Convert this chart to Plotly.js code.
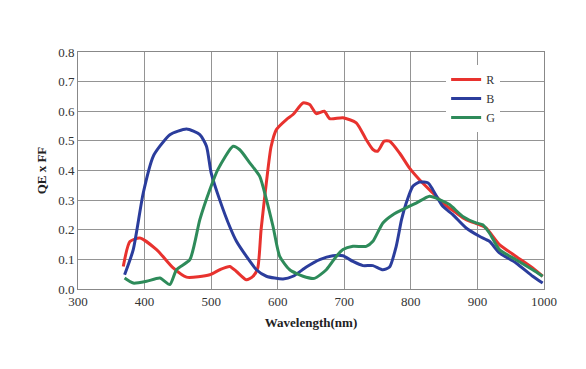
<!DOCTYPE html>
<html>
<head>
<meta charset="utf-8">
<script src="https://cdn.plot.ly/plotly-3.0.1.min.js"></script>
<style>html,body{margin:0;padding:0;background:#fff;}#chart{width:586px;height:369px;}</style>
</head>
<body>
<div id="chart"></div>
<script>
const redWl  = [368, 378, 393, 418, 443, 463, 498, 513, 528, 538, 553, 563, 570, 575, 583, 590, 598, 613, 623, 638, 648, 658, 670, 678, 698, 718, 733, 743, 750, 760, 768, 783, 798, 813, 833, 848, 868, 883, 903, 913, 933, 958, 983, 998];
const redVal = [0.076, 0.16, 0.172, 0.133, 0.071, 0.040, 0.048, 0.065, 0.076, 0.059, 0.031, 0.043, 0.071, 0.20, 0.36, 0.48, 0.538, 0.572, 0.589, 0.628, 0.623, 0.592, 0.60, 0.575, 0.578, 0.561, 0.504, 0.471, 0.465, 0.499, 0.499, 0.459, 0.408, 0.369, 0.324, 0.29, 0.257, 0.234, 0.217, 0.206, 0.15, 0.11, 0.071, 0.043];

const blueWl  = [370, 383, 398, 413, 423, 438, 463, 483, 493, 500, 513, 528, 538, 553, 568, 583, 608, 623, 643, 663, 683, 698, 713, 728, 743, 758, 768, 778, 786, 793, 803, 813, 826, 833, 848, 863, 883, 903, 918, 933, 958, 983, 998];
const blueVal = [0.048, 0.133, 0.324, 0.448, 0.482, 0.521, 0.54, 0.521, 0.482, 0.392, 0.30, 0.21, 0.161, 0.11, 0.065, 0.043, 0.034, 0.043, 0.074, 0.099, 0.112, 0.112, 0.093, 0.079, 0.079, 0.065, 0.074, 0.144, 0.234, 0.29, 0.347, 0.361, 0.358, 0.335, 0.279, 0.251, 0.206, 0.178, 0.161, 0.122, 0.088, 0.043, 0.02];

const greenWl  = [370, 383, 403, 423, 438, 448, 468, 483, 498, 510, 533, 543, 558, 573, 583, 593, 603, 618, 638, 655, 673, 688, 698, 713, 733, 743, 758, 773, 793, 808, 828, 843, 858, 878, 898, 908, 918, 933, 958, 983, 998];
const greenVal = [0.037, 0.02, 0.026, 0.037, 0.015, 0.065, 0.099, 0.234, 0.335, 0.403, 0.482, 0.47, 0.426, 0.38, 0.302, 0.211, 0.11, 0.065, 0.043, 0.036, 0.065, 0.11, 0.133, 0.144, 0.144, 0.161, 0.223, 0.251, 0.274, 0.29, 0.313, 0.302, 0.285, 0.245, 0.223, 0.217, 0.189, 0.133, 0.099, 0.065, 0.043];

const xTicks = [300, 400, 500, 600, 700, 800, 900, 1000];
const yTicks = [0.0, 0.1, 0.2, 0.3, 0.4, 0.5, 0.6, 0.7, 0.8];
const yTickText = ['0.0', '0.1', '0.2', '0.3', '0.4', '0.5', '0.6', '0.7', '0.8'];

const serif = 'Liberation Serif, Times New Roman, serif';

const traces = [
  {x: redWl, y: redVal, name: 'R', mode: 'lines', line: {color: '#e8322e', width: 3, shape: 'spline', smoothing: 0.6}},
  {x: blueWl, y: blueVal, name: 'B', mode: 'lines', line: {color: '#2b3d9c', width: 3, shape: 'spline', smoothing: 0.6}},
  {x: greenWl, y: greenVal, name: 'G', mode: 'lines', line: {color: '#2e8b5a', width: 3, shape: 'spline', smoothing: 0.6}}
];

const layout = {
  width: 586, height: 369,
  margin: {l: 78, r: 42, t: 52, b: 80},
  paper_bgcolor: '#ffffff', plot_bgcolor: '#ffffff',
  font: {family: serif, size: 13, color: '#333'},
  showlegend: true,
  legend: {x: 0.79, y: 0.945, xanchor: 'left', yanchor: 'top', bgcolor: '#ffffff',
           font: {family: serif, size: 12, color: '#333'}, tracegroupgap: 0, itemwidth: 30},
  xaxis: {range: [300, 1000], tickvals: xTicks, ticktext: xTicks.map(String),
          showgrid: true, gridcolor: '#949494', gridwidth: 1, zeroline: false,
          showline: true, linecolor: '#888', linewidth: 1, mirror: true, ticks: '',
          tickfont: {family: serif, size: 13, color: '#333'},
          title: {text: '<b>Wavelength(nm)</b>', font: {family: serif, size: 13, color: '#222'}, standoff: 10}},
  yaxis: {range: [0, 0.8], tickvals: yTicks, ticktext: yTickText,
          showgrid: true, gridcolor: '#949494', gridwidth: 1, zeroline: false,
          showline: true, linecolor: '#888', linewidth: 1, mirror: true, ticks: '',
          tickfont: {family: serif, size: 13, color: '#333'},
          title: {text: '<b>QE x FF</b>', font: {family: serif, size: 13, color: '#222'}, standoff: 8}}
};

Plotly.newPlot('chart', traces, layout, {displayModeBar: false, staticPlot: true});
</script>
</body>
</html>
